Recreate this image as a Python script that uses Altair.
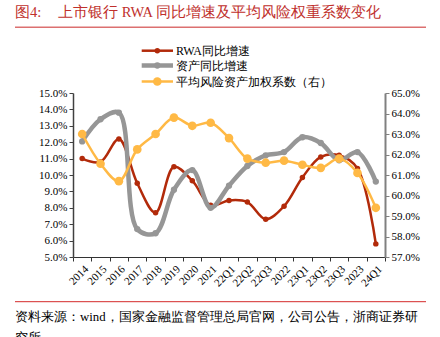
import altair as alt
import pandas as pd

categories = ["2014", "2015", "2016", "2017", "2018", "2019", "2020", "2021",
              "22Q1", "22Q2", "22Q3", "2022", "23Q1", "23Q2", "23Q3", "2023", "24Q1"]
rwa_growth = [11.0, 10.8, 12.2, 9.5, 7.7, 10.5, 9.65, 8.15, 8.45, 8.35, 7.3, 8.1,
              9.85, 11.1, 11.2, 10.4, 5.8]
asset_growth = [12.05, 13.4, 13.8, 6.7, 6.45, 9.1, 10.3, 8.0, 9.35, 10.55, 11.2, 11.4,
                12.3, 11.95, 10.9, 11.4, 9.6]
risk_weight = [63.0, 61.55, 60.7, 62.25, 63.0, 63.8, 63.4, 63.55, 62.8, 61.8, 61.6, 61.7,
               61.5, 61.35, 61.8, 61.1, 59.4]
left_ticks = [5, 6, 7, 8, 9, 10, 11, 12, 13, 14, 15]
right_ticks = [57, 58, 59, 60, 61, 62, 63, 64, 65]
series_names = ["RWA同比增速", "资产同比增速", "平均风险资产加权系数（右）"]
title_prefix = "图4:"
title_text = "上市银行 RWA 同比增速及平均风险权重系数变化"
source_line1 = "资料来源：wind，国家金融监督管理总局官网，公司公告，浙商证券研"
source_line2 = "究所"

RED = "#B22A0A"
GRAY = "#969696"
ORANGE = "#FFB945"
SERIF = "Liberation Serif"

df = pd.DataFrame({"cat": categories, "rwa": rwa_growth, "asset": asset_growth, "rw": risk_weight})

xenc = alt.X("cat:N", sort=categories,
             scale=alt.Scale(type="band", paddingInner=0, paddingOuter=0),
             axis=alt.Axis(title=None, labelAngle=-45, labelAlign="right", labelBaseline="top",
                           labelFont=SERIF, labelFontSize=11, labelColor="black",
                           domainColor="#333333", tickColor="#333333", tickBand="extent",
                           tickSize=4, labelPadding=2))

left_scale = alt.Scale(domain=[5, 15], nice=False, zero=False)
left_axis = alt.Axis(title=None, values=left_ticks, labelExpr="format(datum.value, '.1f') + '%'",
                     labelFont=SERIF, labelFontSize=11, labelColor="black", grid=False,
                     domainColor="#404040", domainWidth=1.5, tickColor="#404040", tickSize=4)
right_scale = alt.Scale(domain=[57, 65], nice=False, zero=False)
right_axis = alt.Axis(title=None, orient="right", values=right_ticks,
                      labelExpr="format(datum.value, '.1f') + '%'",
                      labelFont=SERIF, labelFontSize=11, labelColor="black", grid=False,
                      domainColor="#808080", domainWidth=2, tickColor="#808080", tickSize=4)

base = alt.Chart(df)

red_line = base.mark_line(color=RED, strokeWidth=2.5, interpolate="catmull-rom").encode(
    x=xenc, y=alt.Y("rwa:Q", scale=left_scale, axis=left_axis))
red_pts = base.mark_circle(color=RED, size=30, opacity=1).encode(
    x=xenc, y=alt.Y("rwa:Q", scale=left_scale, axis=left_axis))
gray_line = base.mark_line(color=GRAY, strokeWidth=4.5, interpolate="catmull-rom").encode(
    x=xenc, y=alt.Y("asset:Q", scale=left_scale, axis=left_axis))
gray_pts = base.mark_circle(color=GRAY, size=40, opacity=1).encode(
    x=xenc, y=alt.Y("asset:Q", scale=left_scale, axis=left_axis))
left_layer = alt.layer(red_line, red_pts, gray_line, gray_pts)

orange_line = base.mark_line(color=ORANGE, strokeWidth=2.5, interpolate="catmull-rom").encode(
    x=xenc, y=alt.Y("rw:Q", scale=right_scale, axis=right_axis))
orange_pts = base.mark_circle(color=ORANGE, size=75, opacity=1).encode(
    x=xenc, y=alt.Y("rw:Q", scale=right_scale, axis=right_axis))
right_layer = alt.layer(orange_line, orange_pts)

# Legend (manual)
leg_rows = [-42.3, -27.5, -11.5]
leg_colors = [RED, GRAY, ORANGE]
leg_widths = [2.5, 4.5, 2.5]
leg_sizes = [30, 40, 75]
legend_layers = []
for name, yy, col, w, s in zip(series_names, leg_rows, leg_colors, leg_widths, leg_sizes):
    legend_layers.append(alt.Chart().mark_rule(color=col, strokeWidth=w).encode(
        x=alt.value(68.7), x2=alt.value(100), y=alt.value(yy)))
    legend_layers.append(alt.Chart().mark_circle(color=col, size=s, opacity=1).encode(
        x=alt.value(84.3), y=alt.value(yy)))
    legend_layers.append(alt.Chart().mark_text(text=name, align="left", baseline="middle",
                                               font=SERIF, fontSize=12, color="black").encode(
        x=alt.value(103), y=alt.value(yy)))

# Title and source decorations
deco = [
    alt.Chart().mark_text(text=title_prefix, align="left", baseline="middle", font=SERIF,
                          fontSize=14.5, color="#C0302C").encode(x=alt.value(-58), y=alt.value(-79.7)),
    alt.Chart().mark_text(text=title_text, align="left", baseline="middle", font=SERIF,
                          fontSize=14.5, color="#C0302C").encode(x=alt.value(-15), y=alt.value(-79.7)),
    alt.Chart().mark_rule(color="#DC7070", strokeWidth=1.5).encode(
        x=alt.value(-58), x2=alt.value(353), y=alt.value(-65.7)),
    alt.Chart().mark_rule(color="#D42A2A", strokeWidth=1).encode(
        x=alt.value(-58), x2=alt.value(353), y=alt.value(208.7)),
    alt.Chart().mark_text(text=source_line1, align="left", baseline="middle", font=SERIF,
                          fontSize=12.8, color="black").encode(x=alt.value(-58), y=alt.value(223.7)),
    alt.Chart().mark_text(text=source_line2, align="left", baseline="middle", font=SERIF,
                          fontSize=12.8, color="black").encode(x=alt.value(-58), y=alt.value(244.5)),
]

chart = alt.layer(left_layer, right_layer, *legend_layers, *deco).resolve_scale(
    y="independent"
).properties(
    width=312, height=164,
    autosize=alt.AutoSizeParams(type="none"),
    padding={"left": 73, "top": 93, "right": 55, "bottom": 80},
    background="white",
).configure_view(stroke=None)

chart.save("out.html", embed_options={"renderer": "svg", "actions": False})
